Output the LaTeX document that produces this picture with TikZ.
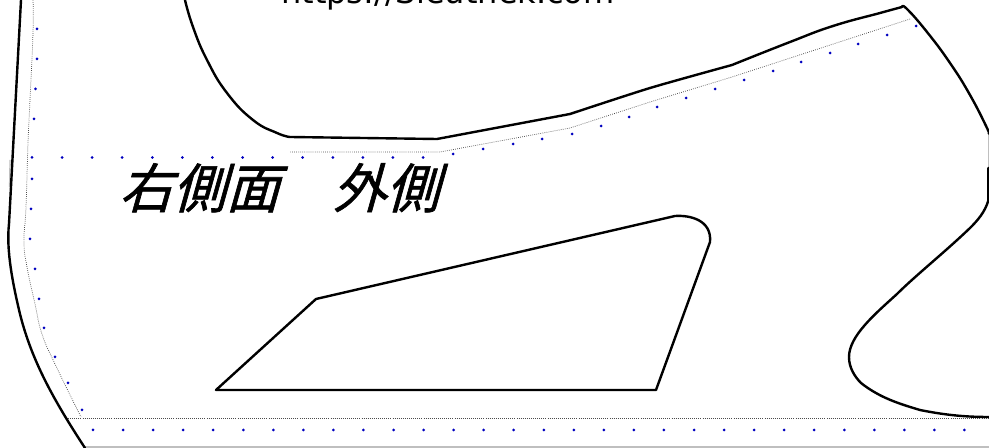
\documentclass[tikz,border=0pt]{standalone}
\usepackage{fontspec}
\setmainfont{DejaVu Sans}
\newfontfamily\jpfont[FakeSlant=0.28,FakeBold=1.2]{Noto Sans CJK JP}
\tikzset{
  outline/.style={line width=1.8pt,black,line join=round,line cap=round},
  seam/.style={line width=0.55pt,black!70,densely dotted},
  pale/.style={line width=0.9pt,black!25},
  sm/.style={smooth,tension=0.8},
}
\newcommand{\stitch}[2]{\fill[blue!75!black] (#1,#2) circle[radius=1.5];}
\begin{document}
\begin{tikzpicture}[x=0.75pt,y=-0.75pt]
\useasboundingbox (0,0) rectangle (989,448);
\clip (0,0) rectangle (989,448);
% pale traces
\draw[pale] (84,447) -- (989,447);
\draw[pale] (989,133) -- (989,168);
\draw[pale] (10,160) -- (9.5,187);
% seam lines
\draw[seam] plot[sm] coordinates {(33,0) (33,33) (30,100) (28,143) (26,207) (24,241) (27,267) (35,304) (42,334) (55,364) (81,417)};
\draw[seam] (66,418) -- (989,418);
\draw[seam] (290,152) -- (440,152) -- (570,128) -- (650,102) -- (732,77) -- (910,19);
% outline, upper part
\draw[outline] plot[sm] coordinates {(185,0) (193,27) (207,60) (227,93) (253,120) (277,133) (290,137)}
  -- (437,139) -- (570,114);
\draw[outline] plot[smooth,tension=0.4] coordinates {(570,114) (650,88) (732,65)};
\draw[outline] plot[sm] coordinates {(732,65) (790,42) (833,26) (880,13) (902,7)};
\draw[outline] plot[sm] coordinates {(902,7) (907,9) (927,32) (950,63) (970,95) (987,128) (988.5,133)};
\draw[outline] (988.5,168) -- (988.5,200);
\draw[outline] (988.5,200) .. controls (985,212) and (978,220) .. (970,228)
  .. controls (945,252) and (915,276) .. (897,294)
  .. controls (875,314) and (849,336) .. (849,357)
  .. controls (849,368) and (855,377) .. (861,383)
  .. controls (880,398) and (900,404) .. (920,410)
  .. controls (945,415) and (965,417) .. (989,417);
% outline, left part
\draw[outline] (21,0) -- (9,224);
\draw[outline] (9,224) .. controls (6,250) and (13,285) .. (20,314)
  .. controls (32,362) and (55,402) .. (85,448);
% inner window
\draw[outline] (216,390) -- (316,299) -- (675,216) .. controls (690,215) and (712,220) .. (710,242) -- (656,390) -- cycle;
% stitches
\foreach \x/\y in {37/29,37/59,35.5/89,34/119,32/179,31/209,30/239,35/269,39/299,44/328,55/357,68/383,82/410,
  453/154,483/149,513/144,542/139,572/134,601/126,629/117,657/107,686/98,715/89,744/80,773/71,801/62,830/53,858/44,887/35,916/26}
  {\stitch{\x}{\y}}
\foreach \k in {0,...,13} {\stitch{32+30.08*\k}{157.5}}
\foreach \k in {0,...,29} {\stitch{93+30.05*\k}{430}}
% texts
\node[anchor=base west,inner sep=0pt,font=\fontsize{24}{24}\selectfont] (url) at (281,3.5) {https://Sleuthek.com};
\node[anchor=base west,inner sep=0pt,font=\jpfont\fontsize{40}{40}\selectfont] (title) at (119,208) {右側面　外側};
\end{tikzpicture}
\end{document}
